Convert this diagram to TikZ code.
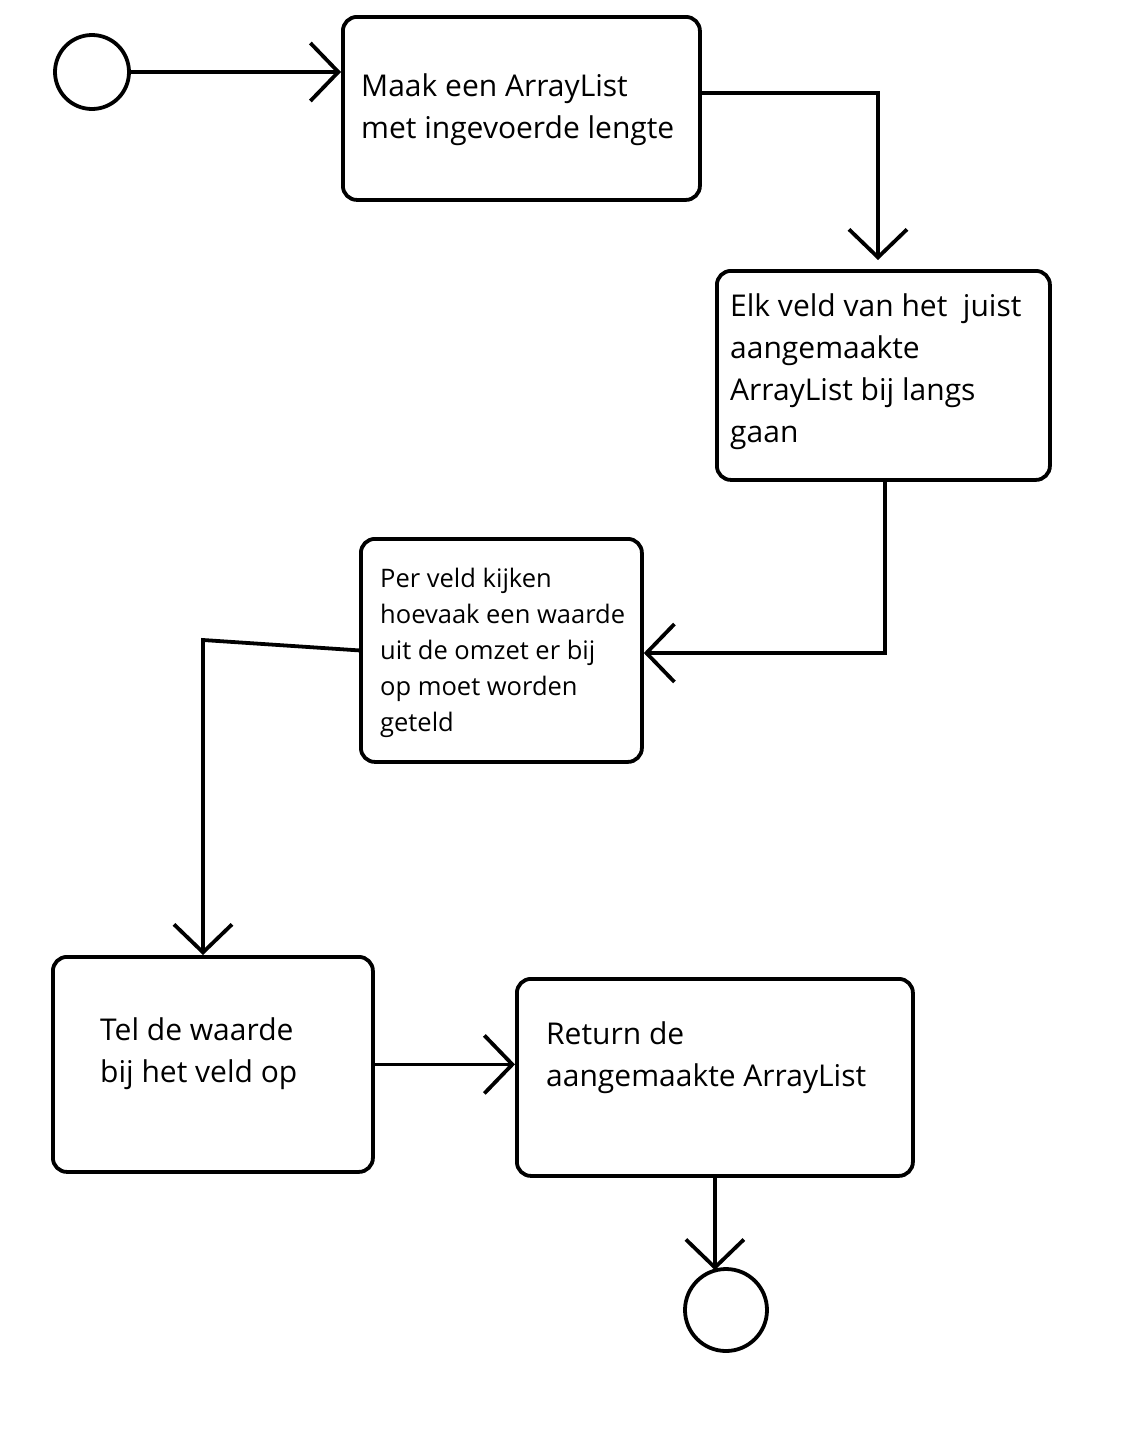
\documentclass[tikz,border=0pt]{standalone}
\usepackage{fontspec}
\setmainfont{Open Sans}
\usetikzlibrary{arrows.meta}
\begin{document}
\begin{tikzpicture}[x=1pt,y=-1pt,
  box/.style={draw, rounded corners=14pt, anchor=north west, inner sep=0pt, line width=3.8pt},
  bigtxt/.style={anchor=north west, align=left, inner sep=0pt, font=\fontsize{30}{42}\selectfont},
  smalltxt/.style={anchor=north west, align=left, inner sep=0pt, font=\fontsize{25.5}{36}\selectfont},
  conn/.style={line width=3.8pt, line join=miter, -{Straight Barb[length=28pt,width=58pt]}},
  endpt/.style={draw, circle, line width=3.8pt, inner sep=0pt}
]
\useasboundingbox[fill=white] (0,0) rectangle (1122,1444);

\node[endpt, minimum size=74pt] (start) at (92,72) {};
\node[endpt, minimum size=82pt] (stop) at (726,1310) {};

\node[box, minimum width=357pt, minimum height=183pt] (b1) at (341,15) {};
\node[box, minimum width=333pt, minimum height=209pt] (b2) at (715,269) {};
\node[box, minimum width=281pt, minimum height=223pt] (b3) at (359,537) {};
\node[box, minimum width=320pt, minimum height=215pt] (b4) at (51,955) {};
\node[box, minimum width=396pt, minimum height=197pt] (b5) at (515,977) {};

\node[bigtxt] (t1) at (361,74) {Maak een ArrayList\\met ingevoerde lengte};
\node[bigtxt] (t2) at (730,293) {Elk veld van het\ \ juist\\aangemaakte\\ArrayList bij langs\\gaan};
\node[smalltxt] (t3) at (380,567.5) {Per veld kijken\\hoevaak een waarde\\uit de omzet er bij\\op moet worden\\geteld};
\node[bigtxt] (t4) at (100,1017) {Tel de waarde\\bij het veld op};
\node[bigtxt] (t5) at (546,1021) {Return de\\aangemaakte ArrayList};

\coordinate (c1) at (878,93);
\coordinate (c2) at (885,653);
\coordinate (c3) at (203,640);

\draw[conn] (start.east) -- (b1.west |- start.east);
\draw[conn, shorten >=9pt] (b1.east |- c1) -- (c1) -- (b2.north -| c1);
\draw[conn] (b2.south -| c2) -- (c2) -- (b3.east |- c2);
\draw[conn] (b3.west) -- (c3) -- (b4.north -| c3);
\draw[conn] (b4.east) -- (b5.west |- b4.east);
\draw[conn, shorten >=-3pt] (b5.south) -- (b5.south |- stop.north);
\end{tikzpicture}
\end{document}
